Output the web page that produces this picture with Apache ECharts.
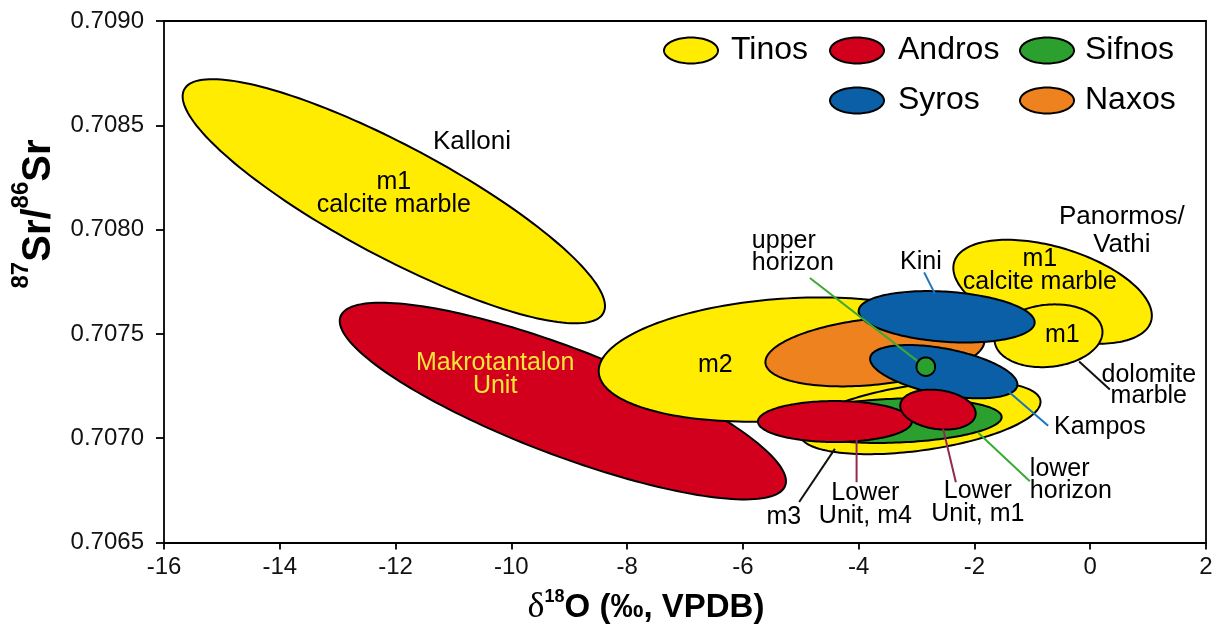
<!DOCTYPE html>
<html><head><meta charset="utf-8">
<script src="https://cdn.jsdelivr.net/npm/echarts@6/dist/echarts.min.js"></script>
<style>html,body{margin:0;padding:0;background:#fff}#c{width:1221px;height:635px}</style>
</head><body><div id="c"></div>
<script>
// ---------------- data ----------------
const xTicks = [-16, -14, -12, -10, -8, -6, -4, -2, 0, 2];
const yTicks = ['0.7065', '0.7070', '0.7075', '0.7080', '0.7085', '0.7090'];
const islands = ['Tinos', 'Andros', 'Sifnos', 'Syros', 'Naxos'];

// ellipse fields (δ18O, 87Sr/86Sr): centre, end of the major axis, minor/major ratio
const ellipseNames  = ['Kalloni m1', 'Makrotantalon Unit', 'm2', 'm3', 'lower horizon', 'Lower Unit m4', 'Naxos', 'Kampos', 'Lower Unit m1', 'Panormos m1 calcite', 'Panormos m1 dolomite', 'Kini', 'upper horizon'];
const ellipseIsland = ['Tinos', 'Andros', 'Tinos', 'Tinos', 'Sifnos', 'Andros', 'Naxos', 'Syros', 'Andros', 'Tinos', 'Tinos', 'Syros', 'Sifnos'];
const centerO   = [-12.03, -9.11, -5.27, -2.94, -3.37, -4.41, -3.72, -2.53, -2.63, -0.65, -0.72, -2.48, -2.84];
const centerSr  = [0.708136, 0.707178, 0.707377, 0.707099, 0.707084, 0.707080, 0.707415, 0.707319, 0.707137, 0.707702, 0.707491, 0.707582, 0.707343];
const axisEndO  = [-8.41, -5.27, -2.05, -0.86, -1.53, -3.08, -1.83, -1.26, -1.98, 1.05, 0.21, -0.96, -2.68];
const axisEndSr = [0.707600, 0.706772, 0.707439, 0.707180, 0.707102, 0.707080, 0.707470, 0.707251, 0.707112, 0.707560, 0.707518, 0.707553, 0.707343];
const axisRatio = [0.234, 0.225, 0.326, 0.27, 0.206, 0.266, 0.30, 0.307, 0.513, 0.434, 0.574, 0.284, 1];

// annotation labels (anchored in data space)
const labelText = ['Kalloni', 'm1\ncalcite marble', 'Makrotantalon\nUnit', 'm2', 'upper\nhorizon', 'Kini', 'Panormos/\nVathi', 'm1\ncalcite marble', 'm1', 'dolomite\nmarble', 'Kampos', 'lower\nhorizon', 'Lower\nUnit, m1', 'Lower\nUnit, m4', 'm3'];
const labelO  = [-10.68, -12.03, -10.28, -6.475, -5.845, -2.926, 0.546, -0.870, -0.482, 1.012, 0.166, -1.043, -1.941, -3.884, -5.292];
const labelSr = [0.708421, 0.708174, 0.707305, 0.707348, 0.707894, 0.707846, 0.707994, 0.707803, 0.707496, 0.707254, 0.707051, 0.706797, 0.706690, 0.706682, 0.706620];

// leader lines
const leaderO1  = [-4.843, -2.869, -0.192, -1.418, -1.936, -2.541, -4.036, -4.411];
const leaderSr1 = [0.707768, 0.707795, 0.707368, 0.707225, 0.707026, 0.707045, 0.706993, 0.706949];
const leaderO2  = [-2.943, -2.684, 0.339, -0.727, -1.043, -2.321, -4.036, -5.028];
const leaderSr2 = [0.707361, 0.707693, 0.707233, 0.707060, 0.706794, 0.706789, 0.706789, 0.706694];
const leaderKind = ['green', 'blue', 'black', 'blue', 'green', 'maroon', 'maroon', 'black'];

// ---------------- styles ----------------
const FONT = "'Liberation Sans', Arial, Helvetica, sans-serif";
const islandColor = {Tinos: '#FFEC00', Andros: '#D2001C', Sifnos: '#2BA02F', Syros: '#0A5FA6', Naxos: '#EE821F'};
const leaderColor = {green: '#3AAA35', blue: '#1B75BC', black: '#111', maroon: '#93294F'};
const labelAlign = ['center', 'center', 'center', 'center', 'left', 'center', 'center', 'center', 'center', 'center', 'center', 'left', 'center', 'center', 'center'];
const labelSize  = [26, 25, 25, 25, 25, 25, 26, 25, 25, 25, 25, 25, 25, 25, 25];
const labelLH    = [26, 23, 23, 26, 22, 26, 28, 23, 26, 21, 26, 22, 23, 23, 26];
const labelFill  = labelText.map((t, i) => i === 2 ? '#F7E63A' : '#000');

const ellipseData = [], topData = [];
ellipseNames.forEach((n, i) => {
  const row = [centerO[i], centerSr[i], axisEndO[i], axisEndSr[i], axisRatio[i], islands.indexOf(ellipseIsland[i])];
  (axisRatio[i] === 1 ? topData : ellipseData).push(row);
});
const labelData = labelText.map((t, i) => [labelO[i], labelSr[i], i]);
const leaderData = leaderO1.map((v, i) => [leaderO1[i], leaderSr1[i], leaderO2[i], leaderSr2[i], i]);

function renderEllipse(params, api) {
  const c = api.coord([api.value(0), api.value(1)]);
  const e = api.coord([api.value(2), api.value(3)]);
  const r = api.value(4);
  const ux = e[0] - c[0], uy = e[1] - c[1];
  const vx = -uy * r, vy = ux * r;
  const pts = [];
  const N = 180;
  for (let k = 0; k < N; k++) {
    const t = k / N * 2 * Math.PI;
    pts.push([c[0] + ux * Math.cos(t) + vx * Math.sin(t), c[1] + uy * Math.cos(t) + vy * Math.sin(t)]);
  }
  return {type: 'polygon', shape: {points: pts},
    style: {fill: islandColor[islands[api.value(5)]], stroke: '#000', lineWidth: 2}};
}
function renderLeader(params, api) {
  const a = api.coord([api.value(0), api.value(1)]);
  const b = api.coord([api.value(2), api.value(3)]);
  return {type: 'line', shape: {x1: a[0], y1: a[1], x2: b[0], y2: b[1]},
    style: {stroke: leaderColor[leaderKind[api.value(4)]], lineWidth: 2}};
}
function renderLabel(params, api) {
  const p = api.coord([api.value(0), api.value(1)]);
  const i = api.value(2);
  return {type: 'text', x: p[0], y: p[1],
    style: {text: labelText[i], fill: labelFill[i], fontSize: labelSize[i], fontFamily: FONT,
      lineHeight: labelLH[i], align: labelAlign[i], textAlign: labelAlign[i],
      verticalAlign: 'middle', textVerticalAlign: 'middle'}};
}

function ellipsePts(cx, cy, rx, ry) {
  const pts = [];
  for (let k = 0; k < 90; k++) { const t = k / 90 * 2 * Math.PI; pts.push([cx + rx * Math.cos(t), cy + ry * Math.sin(t)]); }
  return pts;
}
const legendPos = {Tinos: [691, 50.5, 731], Andros: [857, 50.5, 898], Sifnos: [1047, 50.5, 1085], Syros: [857, 100.5, 898], Naxos: [1047, 100.5, 1085]};
const legendGraphics = [];
islands.forEach(name => {
  const p = legendPos[name];
  legendGraphics.push({type: 'polygon', shape: {points: ellipsePts(p[0], p[1], 27, 13)},
    style: {fill: islandColor[name], stroke: '#000', lineWidth: 2}, z: 10});
  legendGraphics.push({type: 'text', x: p[2], y: p[1],
    style: {text: name, fontSize: 32, fontFamily: FONT, fill: '#000', align: 'left', verticalAlign: 'middle'}, z: 10});
});

const chart = echarts.init(document.getElementById('c'), null, {renderer: 'canvas'});
const axisLineStyle = {color: '#000', width: 1.8};
chart.setOption({
  animation: false,
  backgroundColor: '#fff',
  grid: {left: 164, right: 15, top: 21, bottom: 92.5},
  xAxis: [{
    type: 'value', min: xTicks[0], max: xTicks[xTicks.length - 1], interval: 2,
    axisLine: {onZero: false, lineStyle: axisLineStyle},
    axisTick: {length: 7, lineStyle: axisLineStyle},
    axisLabel: {fontSize: 24, color: '#111', fontFamily: FONT, margin: 13},
    splitLine: {show: false}
  }, {
    type: 'value', position: 'top', min: xTicks[0], max: xTicks[xTicks.length - 1],
    axisLine: {show: true, onZero: false, lineStyle: axisLineStyle},
    axisTick: {show: false}, axisLabel: {show: false}, splitLine: {show: false}
  }],
  yAxis: [{
    type: 'value', min: +yTicks[0], max: +yTicks[yTicks.length - 1], interval: 0.0005,
    axisLine: {onZero: false, lineStyle: axisLineStyle},
    axisTick: {length: 8, lineStyle: axisLineStyle},
    axisLabel: {fontSize: 24, color: '#111', fontFamily: FONT, margin: 20,
      formatter: v => yTicks.find(t => Math.abs(+t - v) < 1e-7) || v.toFixed(4)},
    splitLine: {show: false}
  }, {
    type: 'value', position: 'right', min: +yTicks[0], max: +yTicks[yTicks.length - 1],
    axisLine: {show: true, onZero: false, lineStyle: axisLineStyle},
    axisTick: {show: false}, axisLabel: {show: false}, splitLine: {show: false}
  }],
  series: [
    {type: 'custom', name: 'fields', z: 2, data: ellipseData, renderItem: renderEllipse, encode: {x: 0, y: 1}},
    {type: 'custom', name: 'leaders', z: 3, data: leaderData, renderItem: renderLeader, encode: {x: 0, y: 1}},
    {type: 'custom', name: 'point', z: 4, data: topData, renderItem: renderEllipse, encode: {x: 0, y: 1}},
    {type: 'custom', name: 'labels', z: 5, data: labelData, renderItem: renderLabel, encode: {x: 0, y: 1}}
  ],
  graphic: legendGraphics.concat([
    {type: 'text', x: 38.5, y: 214, rotation: Math.PI / 2,
      style: {text: '{s|87}{b|Sr/}{s|86}{b|Sr}', align: 'center', verticalAlign: 'middle', fill: '#000',
        rich: {
          b: {fontSize: 40, fontWeight: 'bold', fontFamily: FONT, lineHeight: 58, fill: '#000'},
          s: {fontSize: 24, fontWeight: 'bold', fontFamily: FONT, lineHeight: 24, verticalAlign: 'top', fill: '#000'}
        }}},
    {type: 'text', x: 646, y: 608,
      style: {text: '{d|δ}{s|18}{b|O (‰, VPDB)}', align: 'center', verticalAlign: 'middle', fill: '#000',
        rich: {
          d: {fontSize: 36, fontFamily: "'Liberation Serif', 'Times New Roman', serif", lineHeight: 40, fill: '#000'},
          s: {fontSize: 18, fontWeight: 'bold', fontFamily: FONT, lineHeight: 18, verticalAlign: 'top', fill: '#000'},
          b: {fontSize: 33, fontWeight: 'bold', fontFamily: FONT, lineHeight: 40, fill: '#000'}
        }}}
  ])
});
</script></body></html>
